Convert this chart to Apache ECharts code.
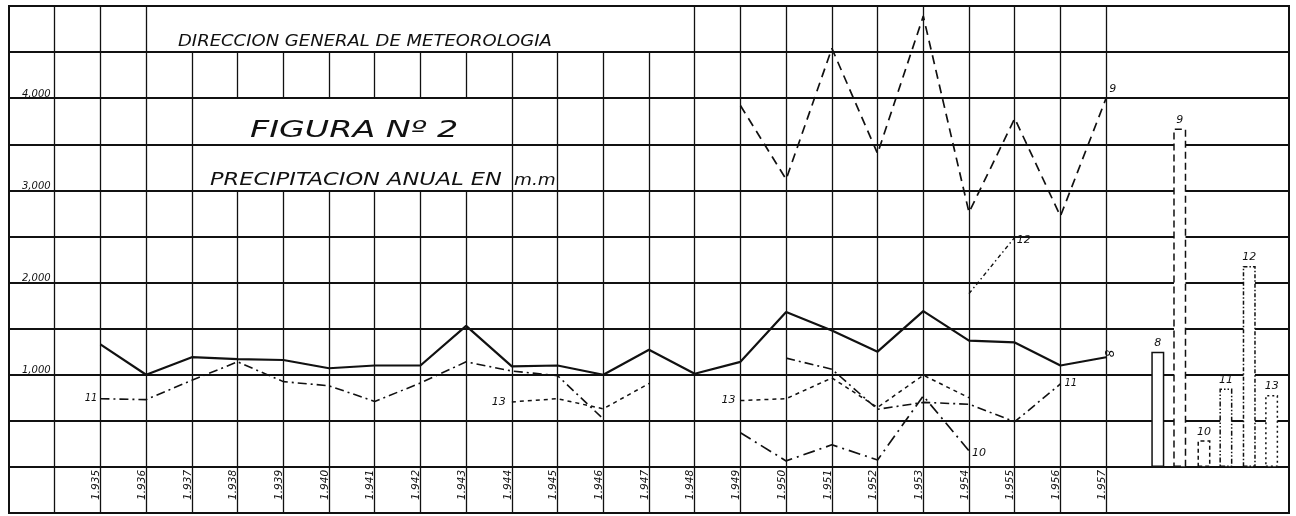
<!DOCTYPE html>
<html>
<head>
<meta charset="utf-8">
<script src="https://cdn.jsdelivr.net/npm/echarts@6.0.0/dist/echarts.min.js"></script>
<style>
html,body{margin:0;padding:0;background:#fff;overflow:hidden;}
#c{width:1296px;height:516px;}
</style>
</head>
<body>
<div id="c"></div>
<script>
// ---------------- DATA ----------------
const years = [1935,1936,1937,1938,1939,1940,1941,1942,1943,1944,1945,1946,1947,1948,1949,1950,1951,1952,1953,1954,1955,1956,1957];
const yearLabels = ['1.935','1.936','1.937','1.938','1.939','1.940','1.941','1.942','1.943','1.944','1.945','1.946','1.947','1.948','1.949','1.950','1.951','1.952','1.953','1.954','1.955','1.956','1.957'];

const s8  = [1330,1000,1190,1170,1160,1070,1100,1100,1530,1090,1100,1000,1270,1010,1140,1680,1480,1250,1690,1370,1350,1100,1190];
const s9  = [null,null,null,null,null,null,null,null,null,null,null,null,null,null,3920,3120,4540,3400,4890,2760,3780,2720,4000];
const s10 = [null,null,null,null,null,null,null,null,null,null,null,null,null,null,370,65,240,75,770,175,null,null,null];
const s11 = [740,730,940,1140,925,880,710,910,1140,1040,990,520,null,null,null,1180,1060,625,700,680,490,900,null];
const s12 = [null,null,null,null,null,null,null,null,null,null,null,null,null,null,null,null,null,null,null,1880,2490,null,null];
const s13 = [null,null,null,null,null,null,null,null,null,705,740,630,905,null,720,740,965,645,995,750,null,null,null];

// averages drawn as bars at the right
const barNames = ['8','9','10','11','12','13'];
const barX     = [1958.13,1958.61,1959.14,1959.62,1960.13,1960.62];
const barVals  = [1250,3670,290,850,2180,780];

const yTickValues = [1000,2000,3000,4000];
const yTickLabels = ['1,000','2,000','3,000','4,000'];

// ---------------- STYLE / BUILD ----------------
const INK = '#111';
const FONT = 'DejaVu Sans';

function segmentsFor(yr){
  if (yr === 1937) return [[-500,4500]];
  if (yr >= 1938 && yr <= 1943) return [[-500,3000],[4000,4500]];
  if (yr >= 1944 && yr <= 1947) return [[-500,4500]];
  return [[-500,5000]];
}
const vLines = [];
for (let yr = 1934; yr <= 1957; yr++) {
  segmentsFor(yr).forEach(s => vLines.push([{coord:[yr,s[0]]},{coord:[yr,s[1]]}]));
}

const labelBase = {fontFamily:FONT, fontStyle:'italic', fontSize:11, color:INK};

function buildData(vals, labels){
  return years.map((y,i) => {
    const v = vals[i];
    const item = {value:[y, v == null ? '-' : v]};
    const lb = labels[y];
    if (lb && v != null) item.label = Object.assign({show:true}, labelBase, lb);
    return item;
  });
}

function lineSeries(name, vals, dash, width, labels, extra){
  return Object.assign({
    name, type:'line', data: buildData(vals, labels || {}),
    symbol:'circle', symbolSize:0.01, showSymbol:true, connectNulls:false,
    itemStyle:{color:INK}, lineStyle:{color:INK, width, type:dash}, label:{show:false}, z:3
  }, extra || {});
}

const series = [
  lineSeries('8', s8, 'solid', 2.2,
    {1957:{position:'right', distance:5, formatter:'8', rotate:90, fontSize:12}},
    {markLine:{silent:true, symbol:['none','none'], label:{show:false},
      lineStyle:{color:INK, width:1.3, type:'solid'}, emphasis:{disabled:true}, data:vLines}}),
  lineSeries('9', s9, [9,6], 1.7, {1957:{position:'right', distance:3, offset:[0,-9], formatter:'9'}}),
  lineSeries('10', s10, [12,5,2,5], 1.7, {1954:{position:'right', distance:3, offset:[0,2], formatter:'10'}}),
  lineSeries('11', s11, [9,4,2,4], 1.6,
    {1935:{position:'left', distance:3, formatter:'11', fontSize:10}, 1956:{position:'right', distance:4, offset:[0,-1], formatter:'11', fontSize:10}}),
  lineSeries('12', s12, [4,3,1.5,3], 1.4, {1955:{position:'right', distance:2, offset:[0,3], formatter:'12'}}),
  lineSeries('13', s13, [4,4], 1.5,
    {1944:{position:'left', distance:6, formatter:'13'}, 1949:{position:'left', distance:5, formatter:'13'}}),
  {
    name:'promedios', type:'bar', barWidth:13, z:4,
    itemStyle:{color:'#fff', borderColor:INK, borderWidth:1.5},
    label:Object.assign({show:true, position:'top', distance:3}, labelBase),
    data: barNames.map((n,i) => ({
      value:[barX[i], barVals[i]],
      itemStyle:{borderType:['solid',[7,4],[4,3],[5,2,1.5,2,1.5,2],[4,2,1.5,2],[2,3]][i]},
      label:{formatter:n}
    }))
  }
];

const chart = echarts.init(document.getElementById('c'), null, {renderer:'canvas'});
chart.setOption({
  animation:false, backgroundColor:'#fff',
  grid:{left:9, right:7, top:6, bottom:3, show:true, borderColor:INK, borderWidth:2, containLabel:false, outerBoundsMode:'none'},
  xAxis:{
    type:'value', min:1933, max:1961, interval:1,
    axisLine:{show:false}, axisTick:{show:false}, splitLine:{show:false},
    axisLabel:{inside:true, rotate:90, margin:13, verticalAlign:'bottom', lineHeight:8,
      fontFamily:FONT, fontStyle:'italic', fontSize:10.5, color:INK,
      formatter: v => { const i = years.indexOf(Math.round(v)); return i >= 0 ? yearLabels[i] : ''; }}
  },
  yAxis:{
    type:'value', min:-500, max:5000, interval:500,
    axisLine:{show:false}, axisTick:{show:false},
    splitLine:{show:true, lineStyle:{color:INK, width:2}},
    axisLabel:{inside:true, margin:13, verticalAlign:'bottom', lineHeight:8,
      fontFamily:FONT, fontStyle:'italic', fontSize:10, color:INK,
      formatter: v => { const i = yTickValues.indexOf(v); return i >= 0 ? yTickLabels[i] : ''; }}
  },
  graphic:[
    {type:'text', x:178, y:42.5, scaleX:1.2, style:{text:'DIRECCION GENERAL DE METEOROLOGIA', fontFamily:FONT, fontStyle:'italic', fontSize:15, fill:INK, align:'left', verticalAlign:'middle'}},
    {type:'text', x:250, y:131, scaleX:1.45, style:{text:'FIGURA Nº 2', fontFamily:FONT, fontStyle:'italic', fontSize:23, fill:INK, align:'left', verticalAlign:'middle'}},
    {type:'text', x:210, y:180, scaleX:1.25, style:{text:'PRECIPITACION ANUAL EN', fontFamily:FONT, fontStyle:'italic', fontSize:18, fill:INK, align:'left', verticalAlign:'middle'}},
    {type:'text', x:514, y:181, scaleX:1.15, style:{text:'m.m', fontFamily:FONT, fontStyle:'italic', fontSize:16, fill:INK, align:'left', verticalAlign:'middle'}}
  ],
  series
});
</script>
</body>
</html>
